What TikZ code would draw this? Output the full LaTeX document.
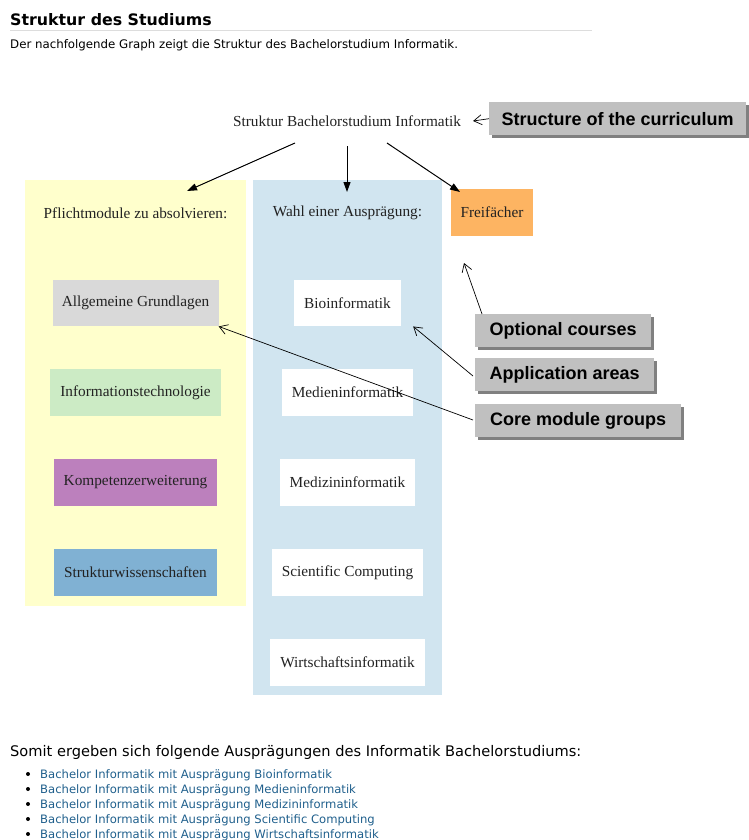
\documentclass[tikz,border=0pt]{standalone}
\usepackage{fontspec}
\setmainfont{Liberation Serif}
\newfontfamily\webfont{DejaVu Sans}
\newfontfamily\callfont{Liberation Sans}
\usetikzlibrary{arrows.meta,backgrounds}
\definecolor{clyellow}{HTML}{FFFFCC}
\definecolor{clblue}{HTML}{D1E5F0}
\definecolor{frorange}{HTML}{FDB462}
\definecolor{aggray}{HTML}{D9D9D9}
\definecolor{itgreen}{HTML}{CCEBC5}
\definecolor{kopurple}{HTML}{BC80BD}
\definecolor{swblue}{HTML}{80B1D3}
\definecolor{callgray}{HTML}{C0C0C0}
\definecolor{shadowgray}{HTML}{808080}
\definecolor{linkblue}{HTML}{1F5F8C}
\definecolor{rulegray}{HTML}{DDDDDD}
\definecolor{inkgray}{HTML}{222222}
\begin{document}
\begin{tikzpicture}[x=1pt,y=-1pt,
  gnode/.style={font=\fontsize{15.3}{17}\selectfont, text=inkgray, minimum height=46.5pt, inner sep=0pt},
  glabel/.style={font=\fontsize{15.3}{17}\selectfont, text=inkgray, inner sep=0pt},
  clusterbox/.style={inner sep=0pt},
  callout/.style={fill=callgray, font=\callfont\bfseries\fontsize{18}{20}\selectfont, minimum height=33pt, inner sep=0pt, anchor=north west},
  gedge/.style={line width=1pt, -{Triangle[length=10pt,width=7pt]}},
  cedge/.style={line width=0.7pt, -{Straight Barb[length=8pt,width=10pt]}},
  webtxt/.style={font=\webfont\fontsize{11.8}{13}\selectfont, anchor=base west, inner sep=0pt},
  linktxt/.style={webtxt, font=\webfont\fontsize{11.6}{13}\selectfont, text=linkblue},
  bulletdot/.style={circle, fill=black, inner sep=0pt, minimum size=4pt}
]
\useasboundingbox (0,0) rectangle (749,840);

% page header
\node[webtxt, font=\webfont\bfseries\fontsize{15.8}{18}\selectfont] (title) at (10,26) {Struktur des Studiums};
\draw[rulegray, line width=1pt] (10,31) -- (592,31);
\node[webtxt] (subtitle) at (10,49) {Der nachfolgende Graph zeigt die Struktur des Bachelorstudium Informatik.};

% clusters
\node[clusterbox, fill=clyellow, minimum width=221pt, minimum height=426pt] (pflicht) at (135.5,393) {};
\node[clusterbox, fill=clblue, minimum width=189pt, minimum height=515pt] (wahl) at (347.5,437.5) {};
\node[glabel] (pflichtlbl) at (135.5,213) {Pflichtmodule zu absolvieren:};
\node[glabel] (wahllbl) at (347.5,213) {Wahl einer Ausprägung:};

% root and Freifächer
\node[glabel, inner xsep=12pt, inner ysep=6pt] (root) at (347,121) {Struktur Bachelorstudium Informatik};
\node[gnode, fill=frorange, minimum width=82pt, minimum height=47pt] (frei) at (492,212.5) {Freifächer};

% core modules
\node[gnode, fill=aggray, minimum width=166pt] (ag) at (135.5,303) {Allgemeine Grundlagen};
\node[gnode, fill=itgreen, minimum width=171pt] (it) at (135.5,392.5) {Informationstechnologie};
\node[gnode, fill=kopurple, minimum width=163pt] (ko) at (135.5,482.5) {Kompetenzerweiterung};
\node[gnode, fill=swblue, minimum width=163pt] (sw) at (135.5,572.5) {Strukturwissenschaften};

% application areas
\node[gnode, fill=white, minimum width=107pt] (bio) at (347.5,303) {Bioinformatik};
\node[gnode, fill=white, minimum width=131pt] (medien) at (347.5,392.5) {Medieninformatik};
\node[gnode, fill=white, minimum width=135pt] (medizin) at (347.5,482.5) {Medizininformatik};
\node[gnode, fill=white, minimum width=151pt] (sci) at (347.5,572.5) {Scientific Computing};
\node[gnode, fill=white, minimum width=155pt] (wi) at (347.5,662.5) {Wirtschaftsinformatik};

% graph edges
\coordinate (s1) at (295,143);
\coordinate (s2) at (347,146);
\coordinate (s3) at (387,143);
\coordinate (t1) at (187,191);
\coordinate (t2) at (347,192);
\coordinate (t3) at (460,192);
\draw[gedge] (s1) -- (t1);
\draw[gedge] (s2) -- (t2);
\draw[gedge] (s3) -- (t3);

% callouts
\node[callout, minimum width=257pt] (sc) at (489,102) {Structure of the curriculum};
\node[callout, minimum width=176pt] (oc) at (475,314) {Optional courses};
\node[callout, minimum width=179pt] (aa) at (475,358) {Application areas};
\node[callout, minimum width=206pt] (cm) at (475,404) {Core module groups};
\begin{scope}[on background layer]
  \foreach \n in {sc,oc,aa,cm}
    \fill[shadowgray] ([shift={(3,3)}]\n.south west) rectangle ([shift={(3,3)}]\n.north east);
\end{scope}

% callout pointers
\coordinate (ocfoot) at (482,314);
\coordinate (octip) at (464,263);
\coordinate (aafoot) at (473,376);
\coordinate (cmfoot) at (473,420);
\draw[cedge] (sc.west) -- (root.east);
\draw[cedge] (ocfoot) -- (octip);
\draw[cedge] (aafoot) -- ([shift={(12,0)}]bio.south east);
\draw[cedge] (cmfoot) -- (ag.south east);

% bottom text
\node[webtxt, font=\webfont\fontsize{14.6}{16}\selectfont] (somit) at (10,756) {Somit ergeben sich folgende Ausprägungen des Informatik Bachelorstudiums:};
\foreach \i/\t in {0/Bioinformatik,1/Medieninformatik,2/Medizininformatik,3/Scientific Computing,4/Wirtschaftsinformatik}{
  \node[bulletdot] (b\i) at (28,{774+15*\i}) {};
  \node[linktxt] (l\i) at (40,{778+15*\i}) {Bachelor Informatik mit Ausprägung \t};
}
\end{tikzpicture}
\end{document}
